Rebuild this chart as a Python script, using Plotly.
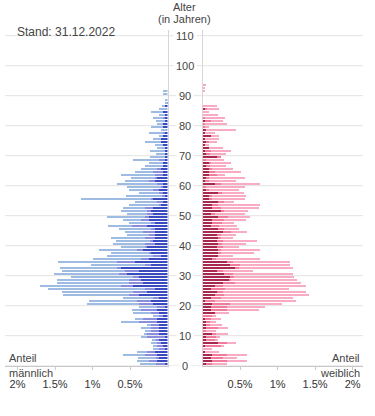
import plotly.graph_objects as go

# ---------------- data (share of population in %, per single year of age) ----------------
ages = list(range(0, 101))

male_dark = [0.06, 0.03, 0.14, 0.11, 0.14, 0.17, 0.03, 0.06, 0.09, 0.11,
             0.03, 0.11, 0.11, 0.11, 0.11, 0.14, 0.14, 0.06, 0.11, 0.14,
             0.03, 0.19, 0.22, 0.11, 0.38, 0.27, 0.17, 0.46, 0.33, 0.35,
             0.38, 0.54, 0.38, 0.62, 0.22, 0.43, 0.25, 0.09, 0.22, 0.33,
             0.27, 0.17, 0.19, 0.17, 0.17, 0.17, 0.17, 0.27, 0.17, 0.25,
             0.25, 0.19, 0.22, 0.19, 0.09, 0.06, 0.19, 0.03, 0.06, 0.11,
             0.06, 0.06, 0.17, 0.14, 0.06, 0.06, 0.09, 0.06, 0.06, 0.03,
             0.03, 0.03, 0.03, 0.03, 0.06, 0.09, 0.09, 0.06, 0.03, 0.0,
             0.06, 0.06, 0.03, 0.03, 0.03, 0.06, 0.0, 0.03, 0.01, 0.0,
             0.0, 0.0, 0.0, 0.0, 0.0, 0.0, 0.0, 0.0, 0.0, 0.0, 0.0]

male_mid = [0.19, 0.13, 0.11, 0.05, 0.16, 0.11, 0.08, 0.08, 0.05, 0.05,
            0.24, 0.16, 0.11, 0.11, 0.11, 0.24, 0.19, 0.05, 0.11, 0.21,
            0.11, 0.19, 0.19, 0.08, 0.13, 0.19, 0.13, 0.16, 0.19, 0.16,
            0.08, 0.11, 0.19, 0.05, 0.08, 0.24, 0.11, 0.11, 0.03, 0.08,
            0.03, 0.13, 0.05, 0.13, 0.08, 0.16, 0.05, 0.21, 0.05, 0.11,
            0.05, 0.08, 0.05, 0.11, 0.03, 0.08, 0.03, 0.05, 0.05, 0.08,
            0.03, 0.08, 0.08, 0.03, 0.11, 0.13, 0.05, 0.0, 0.0, 0.08,
            0.01, 0.0, 0.0, 0.0, 0.0, 0.0, 0.0, 0.0, 0.03, 0.0,
            0.0, 0.0, 0.0, 0.03, 0.0, 0.0, 0.0, 0.0, 0.0, 0.0,
            0.0, 0.0, 0.0, 0.0, 0.0, 0.0, 0.0, 0.0, 0.0, 0.0, 0.0]

male_light = [0.24, 0.21, 0.16, 0.24, 0.29, 0.13, 0.08, 0.05, 0.08, 0.05,
              0.08, 0.05, 0.08, 0.13, 0.05, 0.24, 0.11, 0.08, 0.24, 0.13,
              0.24, 0.69, 0.64, 0.40, 0.89, 0.95, 1.29, 1.08, 0.95, 0.97,
              0.83, 0.87, 0.84, 0.76, 0.72, 0.79, 0.64, 0.61, 0.51, 0.51,
              0.32, 0.43, 0.45, 0.45, 0.29, 0.24, 0.43, 0.32, 0.29, 0.24,
              0.51, 0.27, 0.35, 0.29, 0.40, 0.29, 0.93, 0.48, 0.27, 0.32,
              0.45, 0.53, 0.32, 0.32, 0.45, 0.24, 0.21, 0.24, 0.19, 0.35,
              0.20, 0.13, 0.21, 0.11, 0.11, 0.21, 0.11, 0.05, 0.19, 0.09,
              0.16, 0.08, 0.13, 0.13, 0.08, 0.16, 0.11, 0.05, 0.02, 0.03,
              0.0, 0.06, 0.06, 0.0, 0.0, 0.0, 0.0, 0.0, 0.0, 0.0, 0.0]

female_dark = [0.08, 0.05, 0.13, 0.11, 0.13, 0.03, 0.0, 0.03, 0.21, 0.05,
               0.05, 0.13, 0.0, 0.05, 0.05, 0.05, 0.03, 0.0, 0.16, 0.11,
               0.11, 0.13, 0.03, 0.11, 0.16, 0.19, 0.11, 0.16, 0.27, 0.35,
               0.37, 0.29, 0.19, 0.43, 0.37, 0.32, 0.13, 0.21, 0.21, 0.21,
               0.19, 0.21, 0.19, 0.21, 0.19, 0.27, 0.21, 0.11, 0.13, 0.13,
               0.21, 0.11, 0.24, 0.13, 0.13, 0.21, 0.08, 0.08, 0.21, 0.05,
               0.0, 0.16, 0.03, 0.05, 0.08, 0.08, 0.08, 0.05, 0.08, 0.0,
               0.19, 0.05, 0.03, 0.08, 0.03, 0.05, 0.03, 0.11, 0.03, 0.05,
               0.0, 0.0, 0.03, 0.0, 0.0, 0.0, 0.03, 0.0, 0.0, 0.0,
               0.0, 0.0, 0.0, 0.0, 0.0, 0.0, 0.0, 0.0, 0.0, 0.0, 0.0]

female_mid = [0.08, 0.08, 0.19, 0.16, 0.19, 0.0, 0.0, 0.21, 0.11, 0.11,
              0.13, 0.05, 0.05, 0.16, 0.05, 0.05, 0.08, 0.13, 0.0, 0.21,
              0.21, 0.24, 0.13, 0.13, 0.13, 0.08, 0.19, 0.11, 0.16, 0.03,
              0.05, 0.11, 0.08, 0.05, 0.13, 0.08, 0.05, 0.0, 0.03, 0.03,
              0.08, 0.05, 0.08, 0.03, 0.05, 0.11, 0.08, 0.11, 0.13, 0.16,
              0.13, 0.05, 0.05, 0.11, 0.08, 0.08, 0.05, 0.05, 0.05, 0.03,
              0.05, 0.08, 0.05, 0.03, 0.11, 0.08, 0.05, 0.05, 0.03, 0.05,
              0.05, 0.05, 0.08, 0.0, 0.0, 0.03, 0.0, 0.0, 0.0, 0.0,
              0.03, 0.03, 0.08, 0.03, 0.0, 0.0, 0.03, 0.0, 0.0, 0.0,
              0.0, 0.0, 0.0, 0.0, 0.0, 0.0, 0.0, 0.0, 0.0, 0.0, 0.0]

female_light = [0.27, 0.19, 0.27, 0.19, 0.27, 0.19, 0.13, 0.05, 0.13, 0.05,
                0.05, 0.16, 0.13, 0.13, 0.16, 0.08, 0.13, 0.05, 0.19, 0.43,
                0.51, 0.69, 1.09, 0.96, 1.13, 1.11, 0.85, 1.11, 0.88, 0.88,
                0.80, 0.80, 0.40, 0.72, 0.67, 0.77, 0.59, 0.19, 0.45, 0.53,
                0.21, 0.32, 0.45, 0.16, 0.21, 0.21, 0.19, 0.24, 0.16, 0.29,
                0.29, 0.40, 0.32, 0.51, 0.56, 0.13, 0.43, 0.45, 0.29, 0.40,
                0.51, 0.53, 0.37, 0.48, 0.11, 0.35, 0.27, 0.21, 0.27, 0.24,
                0.0, 0.21, 0.27, 0.19, 0.05, 0.11, 0.19, 0.11, 0.13, 0.40,
                0.05, 0.29, 0.16, 0.27, 0.21, 0.08, 0.16, 0.19, 0.0, 0.0,
                0.0, 0.0, 0.03, 0.03, 0.05, 0.0, 0.0, 0.0, 0.0, 0.0, 0.01]

age_ticks = list(range(0, 111, 10))
x_tickvals = [0.5, 1, 1.5, 2]
x_ticktext = ["0.5%", "1%", "1.5%", "2%"]

# ---------------- styling / geometry ----------------
W, H = 375, 416
FONT = "Liberation Sans, Arial, Helvetica, sans-serif"
TXT = "#444444"
male_colors = ["#3a4ac0", "#8b8cdc", "#9dbbe3"]
female_colors = ["#a8294f", "#f07b9b", "#f9abc3"]


def px(x):
    return x / W


def py(y):
    return 1 - y / H


Y_AXIS = 365.7   # pixel row of the bottom axis
Y_TOP = 30.0     # top of the plotting area
PPY = 3.0        # pixels per year of age
PPP = 75.0       # pixels per 1 %
M_ZERO, M_LEFT = 167.5, 5.0
F_ZERO, F_RIGHT = 202.6, 363.0

yrange = [0, (Y_AXIS - Y_TOP) / PPY]
ydomain = [py(Y_AXIS), py(Y_TOP)]

fig = go.Figure()
for vals, col in zip([male_dark, male_mid, male_light], male_colors):
    fig.add_trace(go.Bar(x=vals, y=ages, orientation="h", xaxis="x", yaxis="y",
                         marker=dict(color=col, line=dict(width=0)),
                         width=0.68, offset=-0.72, hoverinfo="skip", showlegend=False))
for vals, col in zip([female_dark, female_mid, female_light], female_colors):
    fig.add_trace(go.Bar(x=vals, y=ages, orientation="h", xaxis="x2", yaxis="y2",
                         marker=dict(color=col, line=dict(width=0)),
                         width=0.68, offset=-0.72, hoverinfo="skip", showlegend=False))

xcommon = dict(tickvals=x_tickvals, ticktext=x_ticktext, ticks="outside", ticklen=3,
               tickcolor="#cccccc", showline=True, linecolor="#c8c8c8", linewidth=1,
               showgrid=False, zeroline=False, fixedrange=True,
               tickfont=dict(size=11, color="#333333", family=FONT),
               ticklabelstandoff=5)
ycommon = dict(domain=ydomain, range=yrange, showgrid=False, zeroline=False,
               showticklabels=False, ticks="", showline=True, linecolor="#d6d6d6",
               linewidth=1, fixedrange=True)

fig.update_layout(
    width=W, height=H, margin=dict(l=0, r=0, t=0, b=0),
    paper_bgcolor="white", plot_bgcolor="rgba(0,0,0,0)",
    barmode="stack", bargap=0, showlegend=False, hovermode=False,
    font=dict(family=FONT, color=TXT),
    xaxis=dict(domain=[px(M_LEFT), px(M_ZERO)],
               range=[(M_ZERO - M_LEFT) / PPP, 0], anchor="y", **xcommon),
    xaxis2=dict(domain=[px(F_ZERO), px(F_RIGHT)],
                range=[0, (F_RIGHT - F_ZERO) / PPP], anchor="y2", **xcommon),
    yaxis=dict(anchor="x", side="right", **ycommon),
    yaxis2=dict(anchor="x2", side="left", matches="y", **ycommon),
)

# horizontal grid lines across the whole chart
for g in age_ticks:
    fig.add_shape(type="line", xref="paper", yref="y", x0=px(M_LEFT), x1=px(F_RIGHT),
                  y0=g, y1=g, line=dict(color="#e3e3e3", width=1), layer="below")

# age labels in the centre column
for g in age_ticks:
    fig.add_annotation(x=px(185), y=g, xref="paper", yref="y", text=str(g),
                       showarrow=False, font=dict(size=11, color=TXT, family=FONT),
                       bgcolor="white", borderpad=2, xanchor="center", yanchor="middle")

texts = [
    ("Stand: 31.12.2022", 15, 32, "left", 12),
    ("Alter", 184, 6.5, "center", 11),
    ("(in Jahren)", 184, 18.5, "center", 11),
    ("Anteil", 7, 357.5, "left", 11),
    ("männlich", 7, 372.5, "left", 11),
    ("Anteil", 362, 357.5, "right", 11),
    ("weiblich", 362, 372.5, "right", 11),
]
for t, x, y, xa, s in texts:
    fig.add_annotation(x=px(x), y=py(y), xref="paper", yref="paper", text=t,
                       showarrow=False, xanchor=xa, yanchor="middle",
                       font=dict(size=s, color=TXT, family=FONT))

fig.write_html("out.html", config={"displayModeBar": False, "staticPlot": True},
               post_script="document.body.style.margin='0';document.body.style.overflow='hidden';")
